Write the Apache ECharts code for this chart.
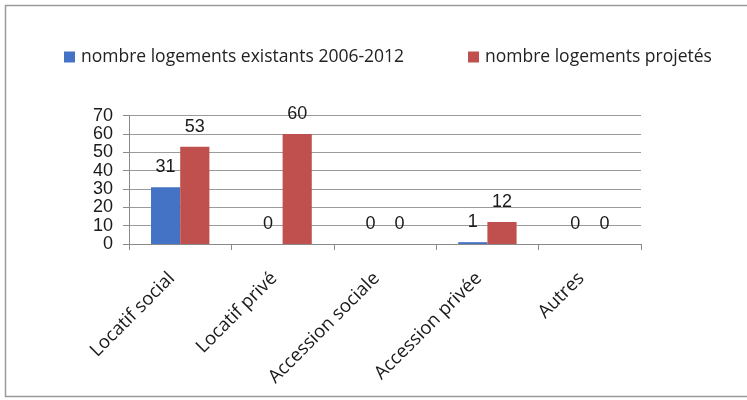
<!DOCTYPE html>
<html>
<head>
<meta charset="utf-8">
<script src="https://cdn.jsdelivr.net/npm/echarts@6/dist/echarts.min.js"></script>
<style>html,body{margin:0;padding:0;background:#fff}#c{width:747px;height:400px}</style>
</head>
<body>
<div id="c"></div>
<script>
const categories = ['Locatif social', 'Locatif privé', 'Accession sociale', 'Accession privée', 'Autres'];
const seriesNames = ['nombre logements existants 2006-2012', 'nombre logements projetés'];
const existants = [31, 0, 0, 1, 0];
const projetes = [53, 60, 0, 12, 0];
const yTicks = [0, 10, 20, 30, 40, 50, 60, 70];

const chart = echarts.init(document.getElementById('c'), null, {renderer: 'canvas'});
const lblFont = 'Liberation Sans';
const catFont = 'Open Sans';
const labelCfg = {show: true, position: 'top', distance: 11, color: '#1a1a1a', fontFamily: lblFont, fontSize: 18};
const legendText = {fontFamily: catFont, fontSize: 17.5, color: '#222', padding: [0, 0, 0, 1]};
chart.setOption({
  animation: false,
  backgroundColor: '#fff',
  graphic: [{
    type: 'rect', shape: {x: 5.5, y: 5.5, width: 760, height: 391},
    style: {fill: 'none', stroke: '#9a9a9a', lineWidth: 1.5}, silent: true
  }],
  legend: [{
    data: [seriesNames[0]], left: 64, top: 48, padding: 0, itemWidth: 11, itemHeight: 11, itemGap: 0,
    icon: 'rect', textStyle: legendText
  }, {
    data: [seriesNames[1]], left: 468, top: 48, padding: 0, itemWidth: 11, itemHeight: 11, itemGap: 0,
    icon: 'rect', textStyle: legendText
  }],
  grid: {left: 129, right: 106, top: 115.7, bottom: 156, containLabel: false},
  xAxis: {
    type: 'category', data: categories,
    axisLine: {show: true, lineStyle: {color: '#8a8a8a', width: 1}},
    axisTick: {show: true, length: 6, alignWithLabel: false, lineStyle: {color: '#8a8a8a'}},
    axisLabel: {rotate: 45, margin: 23, padding: [0, 12, 0, 0], fontFamily: catFont, fontSize: 18.5, color: '#1a1a1a', interval: 0}
  },
  yAxis: {
    type: 'value', min: 0, max: 70, interval: 10,
    axisLine: {show: true, lineStyle: {color: '#8a8a8a', width: 1}},
    axisTick: {show: true, length: 6, inside: false, lineStyle: {color: '#8a8a8a'}},
    splitLine: {show: true, lineStyle: {color: '#9a9a9a', width: 1}},
    axisLabel: {margin: 16, fontFamily: lblFont, fontSize: 18, color: '#1a1a1a',
      formatter: v => yTicks.includes(v) ? String(v) : ''}
  },
  series: [{
    name: seriesNames[0], type: 'bar', data: existants, barGap: '0%', barCategoryGap: '43%',
    itemStyle: {color: '#4472c4'}, label: labelCfg
  }, {
    name: seriesNames[1], type: 'bar', data: projetes, barGap: '0%', barCategoryGap: '43%',
    itemStyle: {color: '#c0504d'}, label: labelCfg
  }]
});
</script>
</body>
</html>
